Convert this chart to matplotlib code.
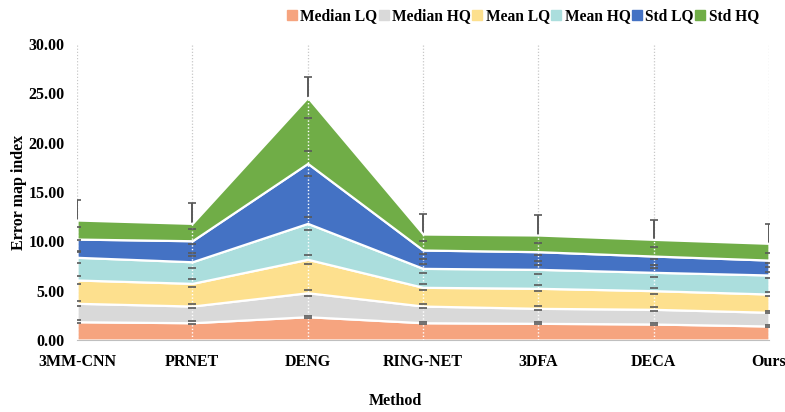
import numpy as np
import matplotlib
matplotlib.use("Agg")
import matplotlib.pyplot as plt
from matplotlib.lines import Line2D

plt.rcParams['font.family'] = ['Liberation Serif', 'DejaVu Serif']
plt.rcParams['font.weight'] = 'bold'

methods = ["3MM-CNN", "PRNET", "DENG", "RING-NET", "3DFA", "DECA", "Ours"]
series_names = ["Median LQ", "Median HQ", "Mean LQ", "Mean HQ", "Std LQ", "Std HQ"]

median_lq = [1.85, 1.75, 2.36, 1.75, 1.69, 1.62, 1.42]
median_hq = [1.87, 1.69, 2.43, 1.69, 1.52, 1.49, 1.39]
mean_lq = [2.36, 2.30, 3.39, 1.90, 2.03, 1.89, 1.85]
mean_hq = [2.30, 2.19, 3.64, 1.92, 1.92, 1.86, 1.93]
std_lq = [1.85, 2.13, 6.08, 1.86, 1.79, 1.65, 1.51]
std_hq = [1.93, 1.76, 6.70, 1.62, 1.69, 1.69, 1.70]

err_median_lq = [0.15, 0.15, 0.10, 0.10, 0.10, 0.10, 0.10]
err_median_hq = [0.25, 0.20, 0.30, 0.20, 0.20, 0.20, 0.10]
err_mean_lq = [0.40, 0.40, 0.45, 0.30, 0.30, 0.30, 0.20]
err_mean_hq = [0.55, 0.60, 0.65, 0.45, 0.45, 0.45, 0.35]
err_std_lq = [1.20, 1.20, 1.30, 0.90, 0.90, 0.90, 0.70]
err_std_hq = [2.05, 2.10, 2.10, 2.00, 2.00, 2.00, 2.00]

yticks = [0, 5, 10, 15, 20, 25, 30]

colors = ["#F6A47F", "#D9D9D9", "#FDE08E", "#ABDEDD", "#4472C4", "#70AD47"]

values = [median_lq, median_hq, mean_lq, mean_hq, std_lq, std_hq]
errors = [err_median_lq, err_median_hq, err_mean_lq, err_mean_hq, err_std_lq, err_std_hq]

fig = plt.figure(figsize=(7.85, 4.12), dpi=100)
ax = fig.add_axes([77 / 785, 1 - 340 / 412, (769 - 77) / 785, (340 - 44) / 412])

x = np.arange(len(methods))
ax.set_xlim(0, len(methods) - 1)
ax.set_ylim(0, 30)

# vertical category gridlines behind everything
for xi in x:
    ax.axvline(xi, color="#C8C8C8", linestyle=(0, (1, 1.5)), lw=0.9, zorder=0)

base = np.zeros(len(methods))
tops = []
for vals, col in zip(values, colors):
    top = base + np.array(vals)
    ax.fill_between(x, base, top, facecolor=col, edgecolor="white", lw=1.6, zorder=2)
    tops.append(top)
    base = top

# error bars: stems hidden behind the areas, caps on top
for top, err in zip(tops, errors):
    eb = ax.errorbar(x, top, yerr=err, fmt="none", ecolor="#595959", elinewidth=1.4,
                     capsize=2.6, capthick=1.2)
    for c in eb[1]:
        c.set_zorder(5)
    for b in eb[2]:
        b.set_zorder(1)

# dotted gridlines over the filled areas
ax.vlines(x, 0, base, colors="white", linestyles=(0, (1, 1.5)), lw=1.0, zorder=4)

ax.set_yticks(yticks)
ax.set_yticklabels([f"{v:.2f}" for v in yticks], fontsize=11.5, fontweight="bold")
ax.set_xticks(x)
ax.set_xticklabels(methods, fontsize=11.5, fontweight="bold")
ax.tick_params(axis="both", length=0)
ax.tick_params(axis="x", pad=10)
ax.tick_params(axis="y", pad=9)

for s in ["top", "right", "left"]:
    ax.spines[s].set_visible(False)
ax.spines["bottom"].set_color("#BFBFBF")
ax.spines["bottom"].set_zorder(6)

fig.text(19 / 785, 1 - 192 / 412, "Error map index", rotation=90, ha="center", va="center",
         fontsize=11.5, fontweight="bold")
fig.text(395 / 785, 1 - 401 / 412, "Method", ha="center", va="center",
         fontsize=11.5, fontweight="bold")

handles = [Line2D([0], [0], marker="s", linestyle="none", markersize=7,
                  markerfacecolor=c, markeredgecolor=c) for c in colors]
fig.legend(handles, series_names, loc="center right", bbox_to_anchor=(759 / 785, 1 - 16 / 412),
           ncol=6, frameon=False, handlelength=0.7, handletextpad=0.2, columnspacing=0.05,
           prop={"size": 11.2, "weight": "bold"}, borderpad=0, borderaxespad=0)

fig.savefig("out.png", dpi=100)
